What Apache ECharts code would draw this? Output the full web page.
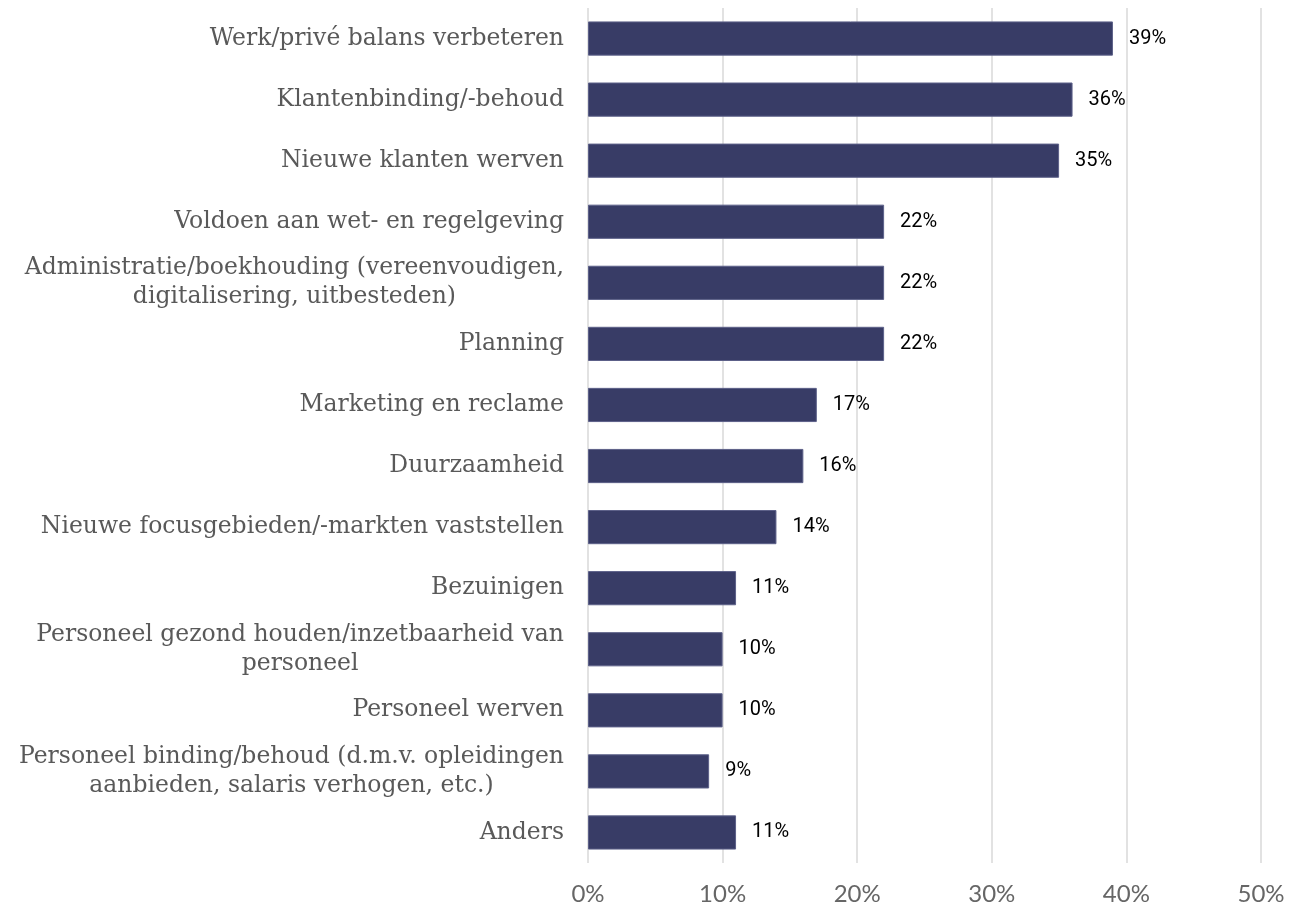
<!DOCTYPE html>
<html>
<head>
<meta charset="utf-8">
<script src="https://cdn.jsdelivr.net/npm/echarts@6/dist/echarts.min.js"></script>
<style>
  html, body { margin: 0; padding: 0; background: #fff; }
  #chart { width: 1309px; height: 907px; }
</style>
</head>
<body>
<div id="chart"></div>
<script>
// categories, top to bottom
var categories = [
  'Werk/privé balans verbeteren',
  'Klantenbinding/-behoud',
  'Nieuwe klanten werven',
  'Voldoen aan wet- en regelgeving',
  'Administratie/boekhouding (vereenvoudigen,\ndigitalisering, uitbesteden)',
  'Planning',
  'Marketing en reclame',
  'Duurzaamheid',
  'Nieuwe focusgebieden/-markten vaststellen',
  'Bezuinigen',
  'Personeel gezond houden/inzetbaarheid van\npersoneel',
  'Personeel werven',
  'Personeel binding/behoud (d.m.v. opleidingen\naanbieden, salaris verhogen, etc.)',
  'Anders'
];
var values = [39, 36, 35, 22, 22, 22, 17, 16, 14, 11, 10, 10, 9, 11];
var xTicks = [0, 10, 20, 30, 40, 50];

var chart = echarts.init(document.getElementById('chart'));
chart.setOption({
  animation: false,
  grid: { left: 588, right: 48, top: 8, bottom: 44, containLabel: false },
  xAxis: {
    type: 'value',
    min: xTicks[0],
    max: xTicks[xTicks.length - 1],
    interval: 10,
    axisLine: { show: false },
    axisTick: { show: false },
    splitLine: { show: true, lineStyle: { color: '#d9d9d9', width: 1.5 } },
    axisLabel: {
      margin: 19,
      color: '#666666',
      fontFamily: 'Lato',
      fontSize: 24,
      formatter: '{value}%'
    }
  },
  yAxis: {
    type: 'category',
    inverse: true,
    data: categories,
    axisLine: { show: false },
    axisTick: { show: false },
    axisLabel: {
      margin: 24,
      color: '#595959',
      fontFamily: 'DejaVu Serif',
      fontSize: 23.5,
      lineHeight: 29,
      formatter: function (v) {
        return v.split('\n').map(function (s) { return '{c|' + s + '}'; }).join('\n');
      },
      rich: {
        c: { align: 'center', color: '#595959', fontFamily: 'DejaVu Serif', fontSize: 23.5, lineHeight: 29 }
      }
    }
  },
  series: [{
    type: 'bar',
    data: values,
    barCategoryGap: '44%',
    itemStyle: { color: '#383c66', borderColor: '#5d6189', borderWidth: 1 },
    label: {
      show: true,
      position: 'right',
      distance: 16,
      color: '#000',
      fontFamily: 'Roboto',
      fontSize: 20,
      formatter: '{c}%'
    }
  }]
});
</script>
</body>
</html>
